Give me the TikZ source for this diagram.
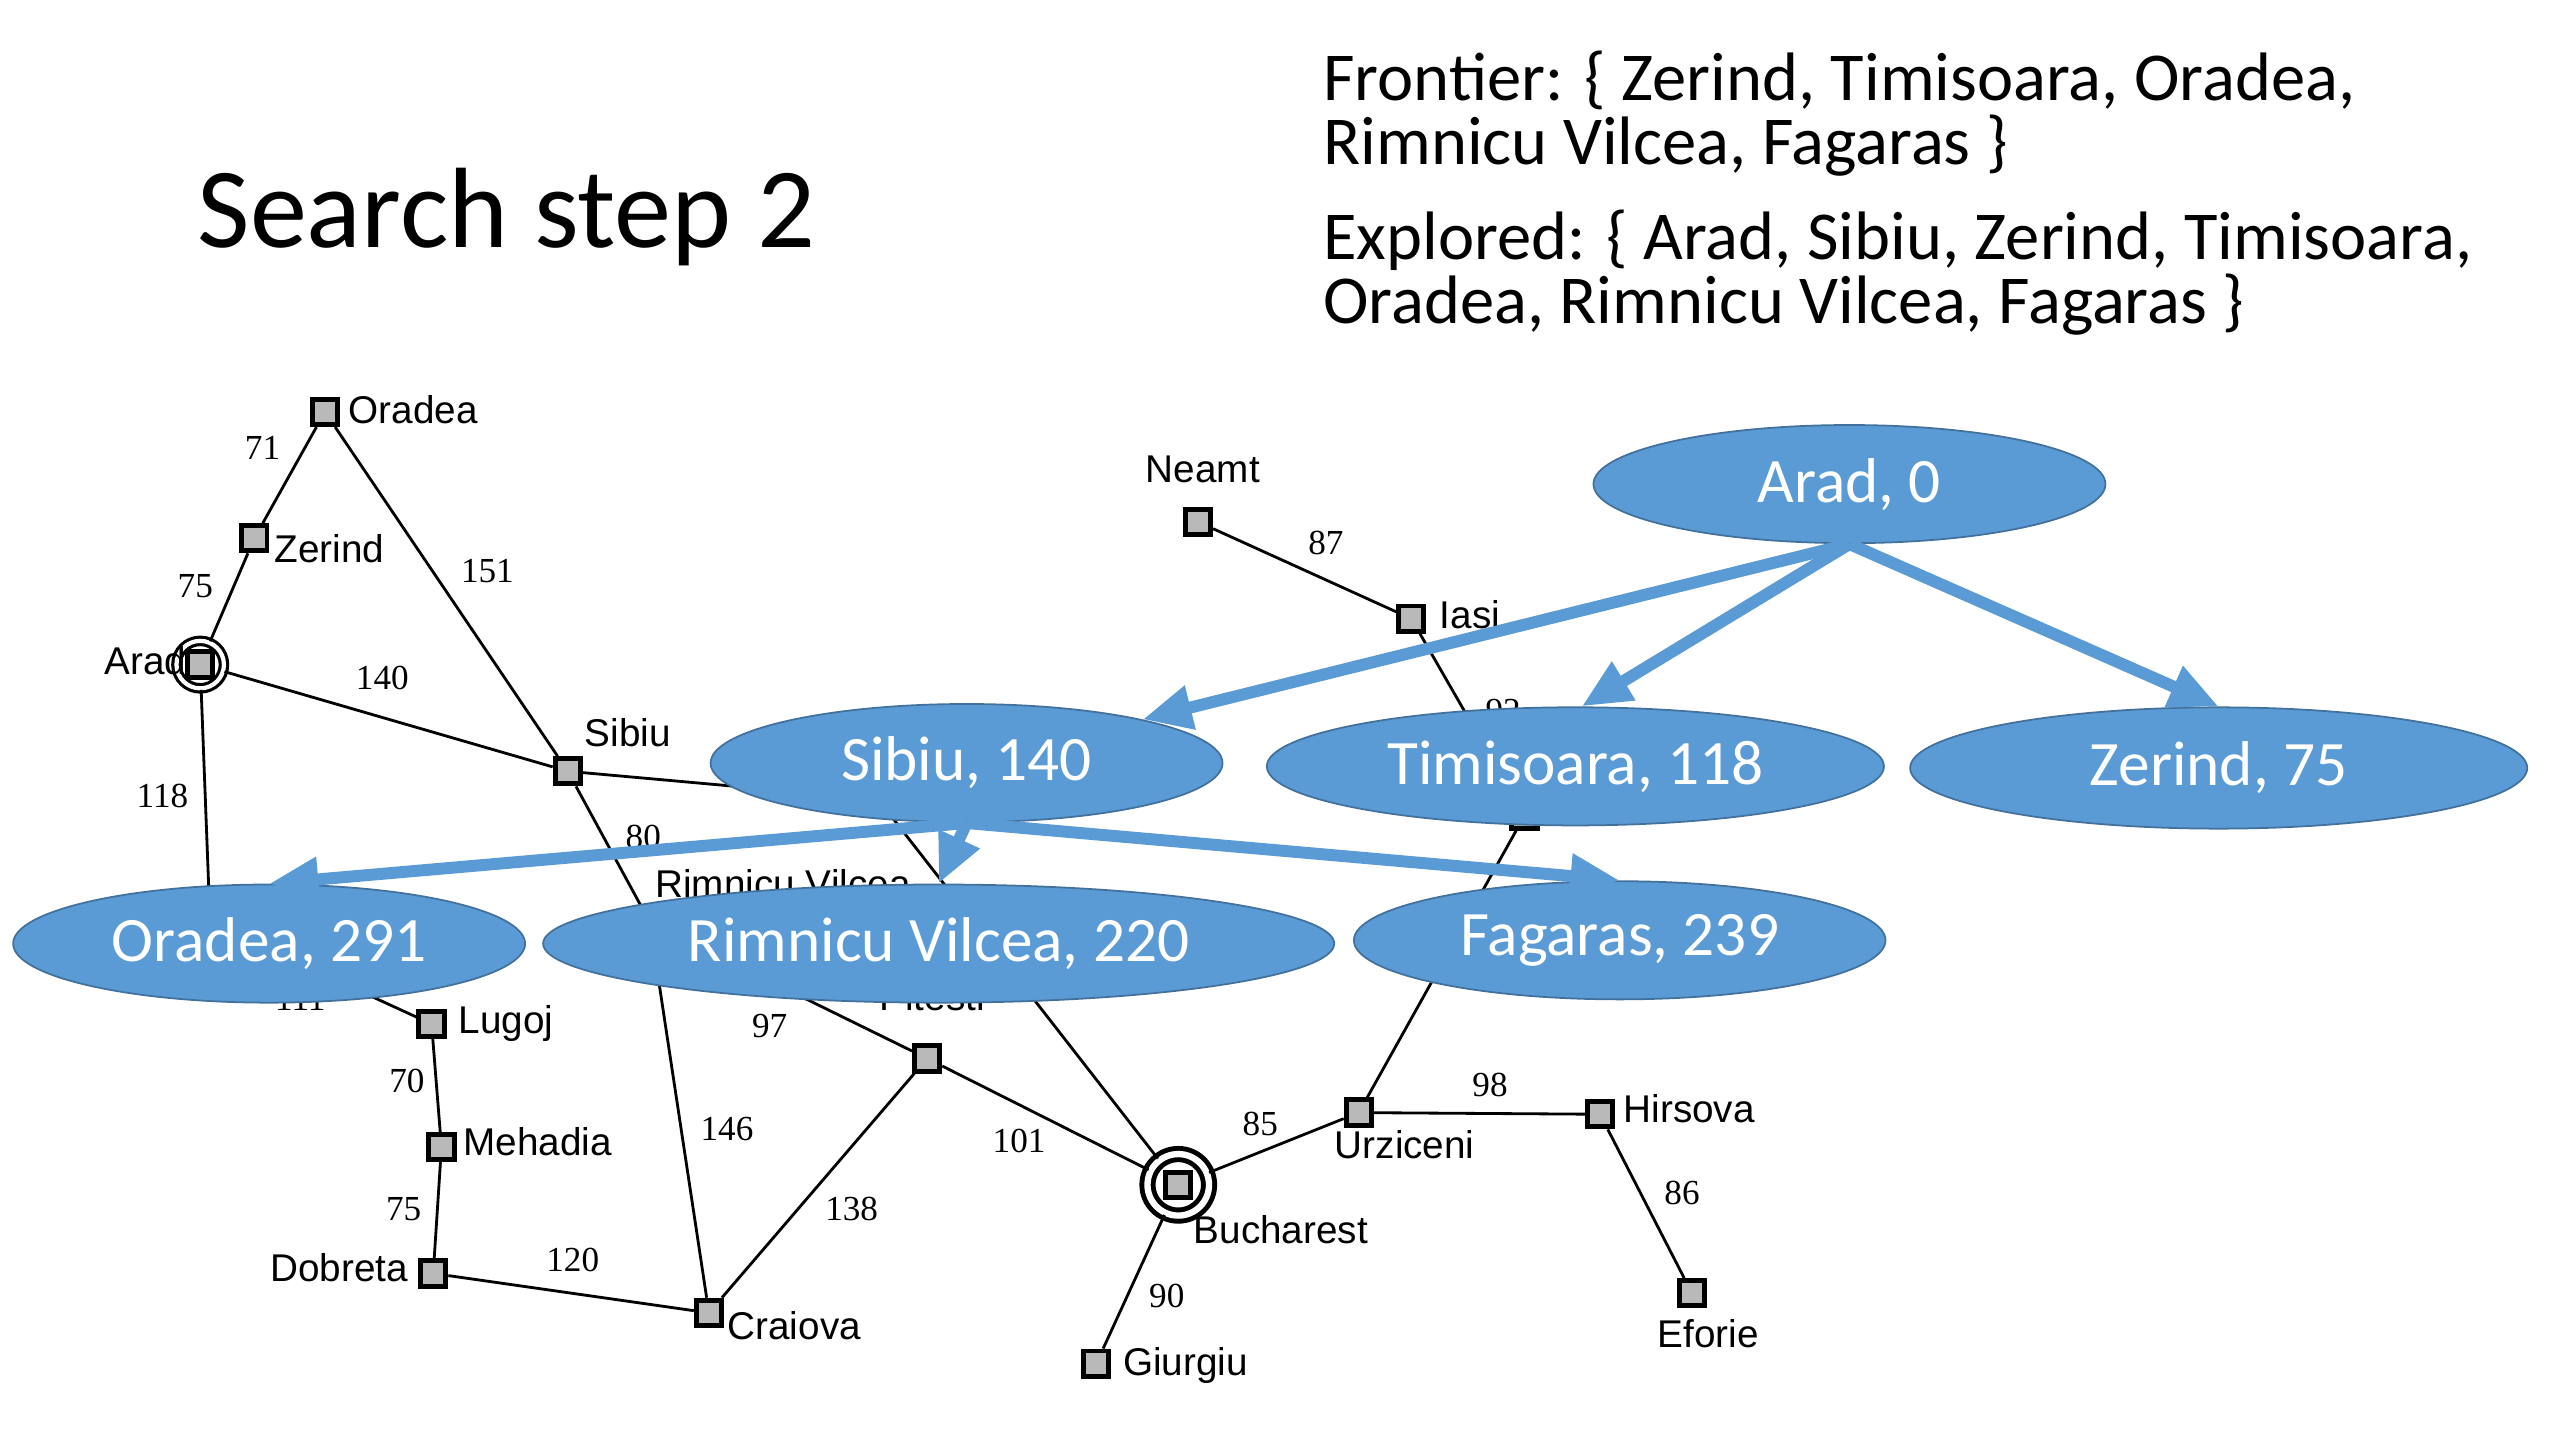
\documentclass[tikz,border=0pt]{standalone}
\usepackage{fontspec}
\usetikzlibrary{shapes.geometric,arrows.meta}
\newfontfamily\slidefont{Carlito}
\newfontfamily\mapfont{Liberation Sans}
\newfontfamily\kmfont{Liberation Serif}
\definecolor{stateblue}{RGB}{91,155,213}
\definecolor{stateedge}{RGB}{65,113,156}
\definecolor{citygray}{RGB}{185,185,185}

\begin{document}
\begin{tikzpicture}[x=0.01641cm, y=-0.01641cm,
    city/.style={draw, line width=1.4pt, fill=citygray, minimum size=7.2pt, inner sep=0pt},
    ring/.style={circle, draw, double, fill=white, inner sep=0pt},
    townname/.style={font=\mapfont\fontsize{11}{13}\selectfont, inner sep=0pt},
    km/.style={font=\kmfont\fontsize{10}{12}\selectfont, inner sep=0pt},
    road/.style={line width=0.8pt},
    state/.style={ellipse, fill=stateblue, draw=stateedge, line width=0.5pt, text=white,
      font=\slidefont\fontsize{18}{22}\selectfont, minimum height=33.6pt, inner sep=0pt},
    expand/.style={draw=stateblue, line width=3.4pt, -{Triangle[length=14pt,width=12pt]}},
    slide/.style={font=\slidefont\fontsize{19.5}{24}\selectfont, inner sep=0pt, anchor=base west}]
    \useasboundingbox (0,0) rectangle (1560,877.5);
    % the map of Romania
    \node[ring, line width=0.9pt, double distance=1.2pt, minimum size=13.5pt] (arad) at (122,405) {};
    \node[city] (aradsq) at (122,405) {};
    \node[city] (zerind) at (155,328) {};
    \node[city] (oradea) at (198,251) {};
    \node[city] (sibiu) at (346,470) {};
    \node[city] (timisoara) at (128,562) {};
    \node[city] (lugoj) at (263,624) {};
    \node[city] (mehadia) at (269,699) {};
    \node[city] (dobreta) at (264,776) {};
    \node[city] (craiova) at (432,800) {};
    \node[city] (rimnicu) at (396,562) {};
    \node[city] (pitesti) at (565,645) {};
    \node[city] (fagaras) at (535,487) {};
    \node[ring, line width=1.4pt, double distance=1.8pt, minimum size=17.5pt] (bucharest) at (718,722) {};
    \node[city] (bucharestsq) at (718,722) {};
    \node[city] (giurgiu) at (668,831) {};
    \node[city] (urziceni) at (828,678) {};
    \node[city] (hirsova) at (975,679) {};
    \node[city] (eforie) at (1031,788) {};
    \node[city] (vaslui) at (929,497) {};
    \node[city] (iasi) at (860,377) {};
    \node[city] (neamt) at (730,318) {};
    \draw[road] (arad) -- (zerind);
    \draw[road] (zerind) -- (oradea);
    \draw[road] (oradea) -- (sibiu);
    \draw[road] (arad) -- (sibiu);
    \draw[road] (arad) -- (timisoara);
    \draw[road] (timisoara) -- (lugoj);
    \draw[road] (lugoj) -- (mehadia);
    \draw[road] (mehadia) -- (dobreta);
    \draw[road] (dobreta) -- (craiova);
    \draw[road] (sibiu) -- (rimnicu);
    \draw[road] (sibiu) -- (fagaras);
    \draw[road] (rimnicu) -- (craiova);
    \draw[road] (rimnicu) -- (pitesti);
    \draw[road] (craiova) -- (pitesti);
    \draw[road] (pitesti) -- (bucharest);
    \draw[road] (fagaras) -- (bucharest);
    \draw[road] (bucharest) -- (giurgiu);
    \draw[road] (bucharest) -- (urziceni);
    \draw[road] (urziceni) -- (hirsova);
    \draw[road] (hirsova) -- (eforie);
    \draw[road] (urziceni) -- (vaslui);
    \draw[road] (vaslui) -- (iasi);
    \draw[road] (iasi) -- (neamt);
    \node[townname, anchor=base west] (l-oradea) at (212,258) {Oradea};
    \node[townname, anchor=base west] (l-zerind) at (167,343) {Zerind};
    \node[townname, anchor=base east] (l-arad) at (114,411) {Arad};
    \node[townname, anchor=base west] (l-sibiu) at (356,455) {Sibiu};
    \node[townname, anchor=base west] (l-lugoj) at (279,630) {Lugoj};
    \node[townname, anchor=base west] (l-mehadia) at (282,704) {Mehadia};
    \node[townname, anchor=base east] (l-dobreta) at (249,781) {Dobreta};
    \node[townname, anchor=base west] (l-craiova) at (443,816) {Craiova};
    \node[townname, anchor=base] (l-pitesti) at (568,616) {Pitesti};
    \node[townname, anchor=base west] (l-rimnicu) at (399,547) {Rimnicu Vilcea};
    \node[townname, anchor=base west] (l-bucharest) at (727,758) {Bucharest};
    \node[townname, anchor=base west] (l-giurgiu) at (684,838) {Giurgiu};
    \node[townname, anchor=base west] (l-urziceni) at (813,706) {Urziceni};
    \node[townname, anchor=base west] (l-hirsova) at (989,684) {Hirsova};
    \node[townname, anchor=base] (l-eforie) at (1041,821) {Eforie};
    \node[townname, anchor=base] (l-neamt) at (733,294) {Neamt};
    \node[townname, anchor=base west] (l-iasi) at (877,383) {Iasi};
    \node[km] (d-zo) at (160,273) {71};
    \node[km] (d-az) at (119,357) {75};
    \node[km] (d-os) at (297,348) {151};
    \node[km] (d-as) at (233,413) {140};
    \node[km] (d-at) at (99,485) {118};
    \node[km] (d-sr) at (392,510) {80};
    \node[km] (d-tl) at (183,609) {111};
    \node[km] (d-lm) at (248,659) {70};
    \node[km] (d-md) at (246,737) {75};
    \node[km] (d-dc) at (349,768) {120};
    \node[km] (d-rc) at (443,688) {146};
    \node[km] (d-rp) at (469,625) {97};
    \node[km] (d-cp) at (519,737) {138};
    \node[km] (d-pb) at (621,695) {101};
    \node[km] (d-fb) at (660,599) {211};
    \node[km] (d-bu) at (768,685) {85};
    \node[km] (d-bg) at (711,790) {90};
    \node[km] (d-uh) at (908,661) {98};
    \node[km] (d-he) at (1025,727) {86};
    \node[km] (d-vi) at (916,433) {92};
    \node[km] (d-in) at (808,331) {87};
    % the search tree
    \node[state, minimum width=145.6pt] (s-arad) at (1127,295) {Arad, 0};
    \node[state, minimum width=145.6pt] (s-sibiu) at (589,465) {Sibiu, 140};
    \node[state, minimum width=175.5pt] (s-timisoara) at (960,467) {Timisoara, 118};
    \node[state, minimum width=175.5pt, minimum height=34.5pt] (s-zerind) at (1352,468) {Zerind, 75};
    \node[state, minimum width=145.6pt] (s-oradea) at (164,575) {Oradea, 291};
    \node[state, minimum width=225pt] (s-rimnicu) at (572,575) {Rimnicu Vilcea, 220};
    \node[state, minimum width=151.2pt] (s-fagaras) at (987,573) {Fagaras, 239};
    \draw[expand] (s-arad.south) -- (s-sibiu);
    \draw[expand] (s-arad.south) -- (s-timisoara.84);
    \draw[expand] (s-arad.south) -- (s-zerind.north);
    \draw[expand] (s-sibiu.south) -- (s-oradea.north);
    \draw[expand] (s-sibiu.south) -- (s-rimnicu.north);
    \draw[expand] (s-sibiu.south) -- (s-fagaras.north);
    % slide texts
    \node[slide, font=\slidefont\fontsize{32.5}{38}\selectfont] (title) at (120,151) {Search step 2};
    \node[slide] (frontier1) at (806,61) {Frontier: \{ Zerind, Timisoara, Oradea,};
    \node[slide] (frontier2) at (806,100) {Rimnicu Vilcea, Fagaras \}};
    \node[slide] (explored1) at (806,158) {Explored: \{ Arad, Sibiu, Zerind, Timisoara,};
    \node[slide] (explored2) at (806,197) {Oradea, Rimnicu Vilcea, Fagaras \}};
\end{tikzpicture}
\end{document}
